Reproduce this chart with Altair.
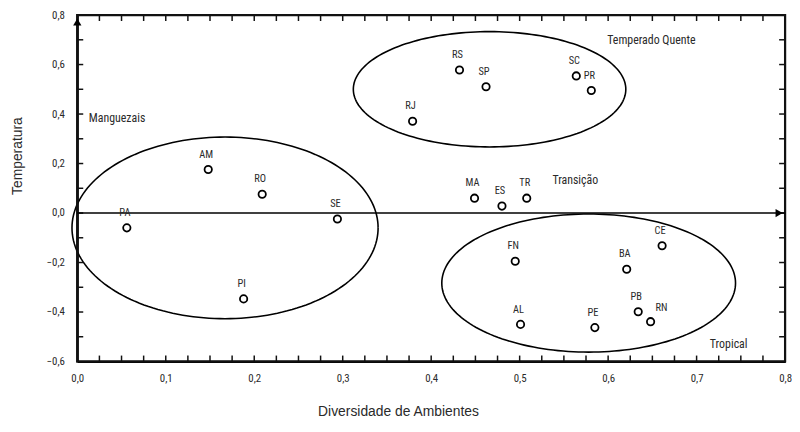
import altair as alt
import pandas as pd
import numpy as np

# ---- data ----
states = ["PA", "AM", "RO", "SE", "PI", "RS", "SP", "RJ", "SC", "PR",
          "MA", "ES", "TR", "FN", "BA", "CE", "AL", "PE", "PB", "RN"]
diversidade = [0.056, 0.148, 0.209, 0.294, 0.188, 0.432, 0.462, 0.379, 0.564, 0.581,
               0.449, 0.480, 0.508, 0.495, 0.621, 0.661, 0.501, 0.585, 0.634, 0.648]
temperatura = [-0.060, 0.176, 0.076, -0.024, -0.347, 0.578, 0.510, 0.371, 0.554, 0.495,
               0.060, 0.028, 0.060, -0.195, -0.227, -0.132, -0.450, -0.463, -0.399, -0.439]

groups = ["Manguezais", "Temperado Quente", "Tropical"]
ell_cx = [0.167, 0.466, 0.578]
ell_cy = [-0.060, 0.500, -0.283]
ell_rx = [0.173, 0.154, 0.166]
ell_ry = [0.367, 0.233, 0.279]

region_labels = ["Manguezais", "Temperado Quente", "Transição", "Tropical"]
region_x = [0.013, 0.599, 0.537, 0.715]
region_y = [0.383, 0.698, 0.132, -0.530]

x_domain = [0.0, 0.8]
y_domain = [-0.6, 0.8]
x_ticks = [0.0, 0.1, 0.2, 0.3, 0.4, 0.5, 0.6, 0.7, 0.8]
y_ticks = [-0.6, -0.4, -0.2, 0.0, 0.2, 0.4, 0.6, 0.8]
x_minor = [round(0.025 * i, 3) for i in range(1, 32)]
y_minor = [round(-0.6 + 0.1 * i, 2) for i in range(1, 14)]

W, H = 715, 350
FONT = "Liberation Sans Narrow, Arial Narrow, Roboto Condensed, Liberation Sans, Arial"
TXT = "#2a2a2a"

pts = pd.DataFrame({"x": diversidade, "y": temperatura, "s": states})

# ellipse outlines from centre / semi-axes
rows = []
t = np.linspace(0, 2 * np.pi, 181)
for g, cx, cy, rx, ry in zip(groups, ell_cx, ell_cy, ell_rx, ell_ry):
    for i, a in enumerate(t):
        rows.append({"g": g, "o": i, "x": cx + rx * np.cos(a), "y": cy + ry * np.sin(a)})
ell = pd.DataFrame(rows)

xs = alt.Scale(domain=x_domain, nice=False, zero=False)
ys = alt.Scale(domain=y_domain, nice=False, zero=False)
lab_expr = "replace(format(datum.value, '.1f'), '.', ',')"

base_x = alt.X("x:Q", scale=xs, axis=alt.Axis(
    values=x_ticks, labelExpr=lab_expr, title="Diversidade de Ambientes",
    ticks=False, domain=True, domainColor="black", domainWidth=2,
    grid=False, labelPadding=11, labelFontSize=11, labelFlush=False,
    labelFont=FONT, labelColor=TXT, titleFont="Liberation Sans, Arial",
    titleFontSize=14, titleFontWeight="normal", titleColor=TXT,
    titleX=324, titleY=51, titleBaseline="middle"))
base_y = alt.Y("y:Q", scale=ys, axis=alt.Axis(
    values=y_ticks, labelExpr=lab_expr, title="Temperatura",
    ticks=False, domain=True, domainColor="black", domainWidth=2,
    grid=False, labelPadding=13, labelFontSize=11, labelFlush=False,
    labelFont=FONT, labelColor=TXT, titleFont="Liberation Sans, Arial",
    titleFontSize=14, titleFontWeight="normal", titleColor=TXT,
    titleX=-60, titleY=142, titleAngle=-90, titleAlign="center", titleBaseline="middle"))

X = lambda f="x": alt.X(f + ":Q", scale=xs)
Y = lambda f="y": alt.Y(f + ":Q", scale=ys)

ellipses = alt.Chart(ell).mark_line(color="black", strokeWidth=1.6, clip=False).encode(
    x=base_x, y=base_y, detail="g:N", order="o:Q")

# frame around the plot area
frame_df = pd.DataFrame({"x": [x_domain[0]], "x2": [x_domain[1]],
                         "y": [y_domain[0]], "y2": [y_domain[1]]})
frame = alt.Chart(frame_df).mark_rect(fill="transparent", stroke="#111111",
                                      strokeWidth=2.2).encode(
    x=X(), x2="x2:Q", y=Y(), y2="y2:Q")

# inward tick marks on all four sides
xb = pd.DataFrame({"x": x_minor, "y": [y_domain[0]] * len(x_minor)})
xt = pd.DataFrame({"x": x_minor, "y": [y_domain[1]] * len(x_minor)})
yl = pd.DataFrame({"x": [x_domain[0]] * len(y_minor), "y": y_minor})
yr = pd.DataFrame({"x": [x_domain[1]] * len(y_minor), "y": y_minor})
tick_b = alt.Chart(xb).mark_tick(orient="vertical", size=6, thickness=1.5,
                                 color="#111111", yOffset=-3, opacity=1).encode(x=X(), y=Y())
tick_t = alt.Chart(xt).mark_tick(orient="vertical", size=6, thickness=1.5,
                                 color="#111111", yOffset=3, opacity=1).encode(x=X(), y=Y())
tick_l = alt.Chart(yl).mark_tick(orient="horizontal", size=6, thickness=1.5,
                                 color="#111111", xOffset=3, opacity=1).encode(x=X(), y=Y())
tick_r = alt.Chart(yr).mark_tick(orient="horizontal", size=6, thickness=1.5,
                                 color="#111111", xOffset=-3, opacity=1).encode(x=X(), y=Y())

# horizontal axis line at y = 0 with arrow
hl_df = pd.DataFrame({"x": [x_domain[0]], "x2": [x_domain[1]], "y": [0.0]})
hline = alt.Chart(hl_df).mark_rule(color="black", strokeWidth=1.6).encode(
    x=X(), x2="x2:Q", y=Y())
arrow_r = alt.Chart(pd.DataFrame({"x": [x_domain[1]], "y": [0.0]})).mark_point(
    shape="triangle-right", filled=True, color="black", size=70, opacity=1, xOffset=-6).encode(
    x=X(), y=Y())
arrow_u = alt.Chart(pd.DataFrame({"x": [x_domain[0]], "y": [y_domain[1]]})).mark_point(
    shape="triangle-up", filled=True, color="black", size=70, opacity=1, yOffset=7).encode(
    x=X(), y=Y())

points = alt.Chart(pts).mark_point(shape="circle", filled=False, color="black",
                                   size=55, strokeWidth=1.8, opacity=1).encode(x=X(), y=Y())

labels = alt.Chart(pts).transform_filter("datum.s != 'RN'").mark_text(
    dy=-15, dx=-2, fontSize=10.5, font=FONT, color=TXT).encode(x=X(), y=Y(), text="s:N")
labels_rn = alt.Chart(pts).transform_filter("datum.s == 'RN'").mark_text(
    dy=-14, dx=11, fontSize=10.5, font=FONT, color=TXT).encode(x=X(), y=Y(), text="s:N")

reg = pd.DataFrame({"x": region_x, "y": region_y, "t": region_labels})
regions = alt.Chart(reg).mark_text(align="left", baseline="middle", fontSize=12,
                                   font=FONT, color=TXT).encode(x=X(), y=Y(), text="t:N")

chart = alt.layer(
    ellipses, frame, tick_b, tick_t, tick_l, tick_r,
    hline, arrow_r, arrow_u, points, labels, labels_rn, regions
).properties(
    width=W, height=H,
    background="white",
    autosize=alt.AutoSizeParams(type="none"),
    padding={"left": 70, "top": 5, "right": 7, "bottom": 60},
).configure_view(
    stroke="black", strokeWidth=2
)

chart.save("out.html", embed_options={"renderer": "svg", "actions": False})
